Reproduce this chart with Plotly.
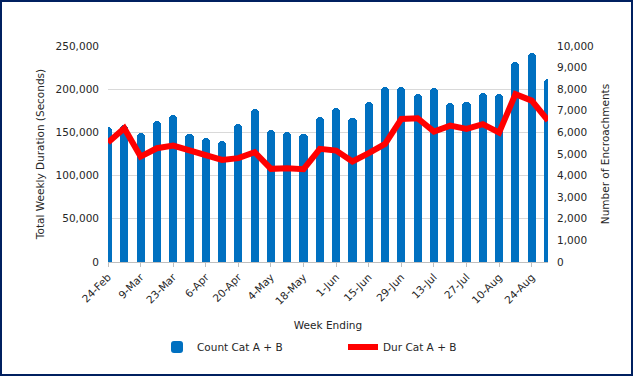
import plotly.graph_objects as go
import pandas as pd

# ---- data ----
week_ending = pd.date_range("2020-02-24", periods=28, freq="7D")
count_cat_ab = [6250, 6320, 5970, 6510, 6790, 5930, 5720, 5600, 6370, 7080,
                6110, 6020, 5930, 6710, 7130, 6670, 7430, 8100, 8100, 7760,
                8050, 7340, 7390, 7820, 7760, 9260, 9680, 8470]
dur_cat_ab = [138200, 154900, 122000, 131700, 134800, 129800, 124000, 118200,
              120200, 127100, 107800, 108600, 107500, 131000, 129000, 116300,
              126000, 136700, 165600, 166400, 151000, 157900, 154000, 159500,
              149800, 194200, 186800, 163700]

FONT = "DejaVu Sans"
TXT = "#262626"
DAY = 86400000

fig = go.Figure()
fig.add_trace(go.Bar(
    x=week_ending, y=count_cat_ab, name="Count Cat A + B",
    marker=dict(color="#0070C0", line=dict(width=0), cornerradius=4),
    width=3.5 * DAY, yaxis="y",
))
fig.add_trace(go.Scatter(
    x=week_ending, y=dur_cat_ab, name="Dur Cat A + B", mode="lines",
    line=dict(color="#FF0000", width=6), yaxis="y2",
))

W, H = 633, 376
L, R, T, B = 108, 85, 46, 114
pw, ph = W - L - R, H - T - B

fig.update_layout(
    width=W, height=H,
    margin=dict(l=L, r=R, t=T, b=B, pad=0),
    paper_bgcolor="white", plot_bgcolor="white",
    font=dict(family=FONT, size=10.5, color=TXT),
    showlegend=True,
    legend=dict(orientation="h", x=(157 - L) / pw, xanchor="left",
                y=-(347 - (T + ph)) / ph, yanchor="middle",
                font=dict(family=FONT, size=10.5, color=TXT),
                entrywidth=141, itemwidth=30, bgcolor="rgba(0,0,0,0)"),
    bargap=0,
    xaxis=dict(
        type="date",
        range=[week_ending[0], week_ending[-1]],
        tick0=week_ending[0], dtick=14 * DAY, tickformat="%-d-%b",
        tickangle=-45, ticks="outside", ticklen=4, tickcolor="#BFBFBF",
        showline=True, linecolor="#BFBFBF", linewidth=1,
        showgrid=False, zeroline=False,
        title=dict(text="Week Ending", font=dict(family=FONT, size=10.5, color=TXT), standoff=15),
        tickfont=dict(family=FONT, size=10.5, color=TXT),
    ),
    yaxis=dict(
        side="right", range=[0, 10000], dtick=1000, tickformat=",",
        showgrid=False, zeroline=False, showline=False,
        ticklabelstandoff=8,
        title=dict(text="Number of Encroachments", font=dict(family=FONT, size=10.5, color=TXT), standoff=8),
        tickfont=dict(family=FONT, size=10.5, color=TXT),
    ),
    yaxis2=dict(
        side="left", overlaying="y", range=[0, 250000], dtick=50000, tickformat=",",
        showgrid=True, gridcolor="#D9D9D9", gridwidth=1, zeroline=False, showline=False,
        ticklabelstandoff=8,
        title=dict(text="Total Weekly Duration (Seconds)", font=dict(family=FONT, size=10.5, color=TXT), standoff=8),
        tickfont=dict(family=FONT, size=10.5, color=TXT),
    ),
)

# outer chart border
fig.add_shape(type="rect", xref="paper", yref="paper",
              x0=(1 - L) / pw, x1=(632 - L) / pw,
              y0=(T + ph - 375) / ph, y1=(T + ph - 1) / ph,
              line=dict(color="#002060", width=2), fillcolor="rgba(0,0,0,0)", layer="above")

fig.write_html("out.html", config={"displayModeBar": False},
               post_script="document.body.style.margin='0';")
